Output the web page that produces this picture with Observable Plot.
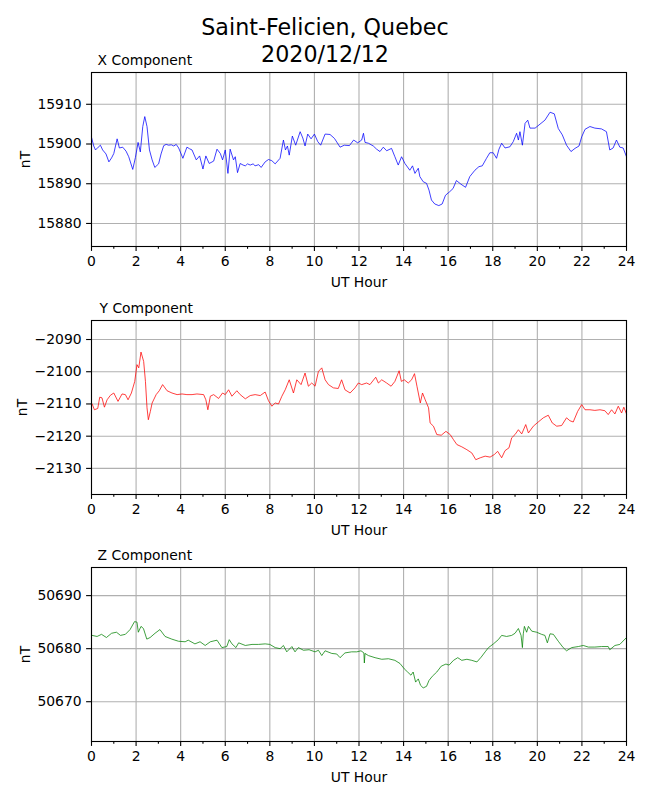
<!DOCTYPE html>
<html><head><meta charset="utf-8">
<script src="https://cdn.jsdelivr.net/npm/d3@7"></script>
<script src="https://cdn.jsdelivr.net/npm/@observablehq/plot@0.6"></script>
<style>
body{margin:0;background:#fff;font-family:"DejaVu Sans",sans-serif;}
#wrap{position:relative;width:650px;height:800px;overflow:hidden;background:#fff;}
.title{position:absolute;left:0;width:650px;top:14px;text-align:center;font-size:22.2px;line-height:26.6px;color:#000;font-family:"DejaVu Sans",sans-serif;z-index:2;}
.panel{position:absolute;left:0;z-index:1;}
</style></head><body>
<div id="wrap"><div class="title">Saint-Felicien, Quebec<br>2020/12/12</div></div>
<script>
const hourTicks = [0,2,4,6,8,10,12,14,16,18,20,22,24];
const minorTicks = [1,3,5,7,9,11,13,15,17,19,21,23];

const xHours = [0,0.1,0.18,0.3,0.4,0.5,0.65,0.78,0.9,1.0,1.15,1.25,1.4,1.55,1.67,1.85,1.97,2.09,2.19,2.3,2.39,2.49,2.6,2.72,2.84,3.01,3.12,3.24,3.35,3.46,3.58,3.69,3.8,3.91,4.1,4.28,4.4,4.51,4.7,4.85,5.0,5.13,5.28,5.48,5.63,5.78,5.88,6.0,6.12,6.22,6.37,6.45,6.55,6.67,6.8,6.9,7.0,7.12,7.25,7.34,7.5,7.61,7.79,7.94,8.09,8.24,8.46,8.61,8.7,8.79,8.87,9.01,9.16,9.36,9.48,9.58,9.7,9.85,10.0,10.15,10.28,10.48,10.7,10.9,11.15,11.34,11.57,11.76,11.94,12.12,12.2,12.27,12.42,12.64,12.79,12.94,13.09,13.24,13.46,13.61,13.76,13.91,14.06,14.28,14.4,14.51,14.66,14.73,14.88,15.03,15.14,15.25,15.4,15.58,15.73,15.88,16.07,16.22,16.37,16.57,16.78,16.97,17.2,17.38,17.53,17.72,17.87,18.02,18.17,18.28,18.4,18.55,18.77,18.92,19.07,19.15,19.22,19.33,19.45,19.57,19.67,19.9,20.12,20.34,20.57,20.76,20.94,21.12,21.31,21.51,21.69,21.87,21.99,22.14,22.36,22.58,22.88,23.1,23.25,23.4,23.55,23.7,23.85,24];
const xNT = [15901.7,15899.5,15898.5,15899.2,15899.7,15898.5,15897.5,15895.5,15896.5,15897.6,15901.3,15899,15899.2,15898.2,15896.8,15893.6,15896.6,15900.4,15898,15904.4,15906.9,15904.4,15898.5,15896,15894.1,15895,15897.5,15899.6,15899.9,15899.7,15899.8,15899.5,15899.9,15899,15896.4,15899.2,15898.8,15898.5,15896,15897,15893.7,15897,15895.1,15895.7,15898.7,15897.6,15896,15898.5,15892.6,15898.7,15896,15896.8,15892.8,15895.1,15894.7,15894.5,15895,15894.7,15895,15894.5,15894.8,15894.1,15895.5,15896.1,15895.8,15895,15896.4,15901,15898.5,15899.5,15897.2,15902,15899.7,15903.1,15901.5,15899.5,15902.5,15901.3,15902.5,15900.6,15899.7,15902.5,15902.4,15901.4,15899.2,15899.7,15899.6,15901,15900.3,15901,15902.7,15900.4,15900.2,15899.5,15898.7,15898.1,15899.2,15898.3,15898.9,15896.8,15894.7,15896.8,15895.1,15893.4,15894.5,15892.6,15893.9,15891.8,15890.5,15890.1,15888.4,15885.9,15884.9,15884.5,15884.9,15887.1,15888,15888.8,15890.8,15889.9,15889.1,15891.8,15893.4,15894.3,15894.5,15896.4,15897.8,15897.8,15896.4,15898.7,15900.2,15899,15899.3,15900.6,15902.7,15901,15903.1,15899.7,15905.2,15906,15904,15904,15905,15906,15908,15907.6,15903.9,15902.3,15899.7,15898.1,15898.9,15899.5,15901.8,15903.7,15904.4,15904,15903.8,15903.1,15898.5,15899,15901,15899.2,15899,15896.8];

const yHours = [0.03,0.13,0.28,0.37,0.47,0.58,0.7,0.85,1.0,1.19,1.37,1.52,1.64,1.79,1.94,2.04,2.12,2.22,2.34,2.42,2.49,2.55,2.64,2.72,2.9,3.04,3.19,3.39,3.61,3.84,4.06,4.28,4.51,4.73,5.03,5.13,5.22,5.33,5.48,5.7,5.88,6.0,6.15,6.3,6.52,6.67,6.9,7.12,7.34,7.57,7.79,7.94,8.09,8.24,8.39,8.54,8.69,8.87,9.06,9.21,9.4,9.58,9.73,9.88,10.03,10.18,10.33,10.48,10.63,10.85,11.07,11.22,11.37,11.6,11.82,11.97,12.12,12.34,12.49,12.75,12.87,13.02,13.24,13.44,13.61,13.8,13.9,14.03,14.21,14.36,14.49,14.6,14.75,14.85,14.97,15.12,15.19,15.34,15.49,15.69,15.9,16.09,16.24,16.39,16.61,16.84,17.06,17.24,17.44,17.66,17.88,18.07,18.22,18.4,18.55,18.73,18.85,19.0,19.15,19.3,19.48,19.6,19.82,20.04,20.27,20.49,20.67,20.87,21.09,21.31,21.46,21.61,21.81,21.99,22.14,22.36,22.58,22.81,23.03,23.18,23.33,23.48,23.63,23.78,23.88,24];
const yNT = [-2110,-2111.8,-2111.4,-2107.9,-2108.1,-2111,-2108.7,-2107.3,-2106.6,-2109.2,-2106.9,-2107.1,-2108.7,-2106.6,-2103,-2097.8,-2098.8,-2093.9,-2096.8,-2103,-2111.2,-2114.9,-2112.3,-2109.7,-2107.1,-2105.9,-2104,-2105.9,-2106.6,-2107.1,-2106.9,-2107.1,-2107.1,-2106.9,-2107.1,-2108.7,-2111.8,-2107.6,-2107.1,-2108.3,-2106.6,-2107.1,-2105.6,-2107.6,-2105.9,-2107.1,-2108.4,-2107.4,-2107.1,-2107.4,-2106.3,-2109,-2110.7,-2109.7,-2110,-2107.6,-2105.6,-2102.5,-2106.6,-2102.5,-2104,-2100.4,-2104.5,-2103.5,-2104.5,-2099.9,-2098.8,-2102.5,-2104,-2105,-2105.2,-2102.5,-2105.6,-2106.6,-2105,-2103.5,-2104,-2103.5,-2104,-2101.7,-2103.5,-2102.5,-2103.5,-2104.5,-2103,-2099.7,-2103,-2102.5,-2103.5,-2102.5,-2100.6,-2104.5,-2109.7,-2106.6,-2108.7,-2111.2,-2115.9,-2116.9,-2119.5,-2119.7,-2118.5,-2119.5,-2121.1,-2122.6,-2123.3,-2124.2,-2125.2,-2127.3,-2126.7,-2126.2,-2126.5,-2125.7,-2124.7,-2126.7,-2124.5,-2123.6,-2120.5,-2119.5,-2118,-2119.3,-2116.4,-2119,-2116.9,-2115.6,-2114.3,-2113.5,-2115.9,-2116.9,-2116.7,-2114.3,-2115.2,-2115.6,-2112.3,-2110.2,-2111.8,-2111.8,-2112,-2111.8,-2112.1,-2113.3,-2111.8,-2113.1,-2110.7,-2112.8,-2111,-2113.1];

const zHours = [0.03,0.25,0.45,0.67,0.9,1.12,1.3,1.52,1.73,1.93,2.04,2.1,2.22,2.33,2.48,2.63,2.85,3.07,3.3,3.6,3.9,4.2,4.34,4.64,4.87,5.1,5.33,5.63,5.85,6.07,6.18,6.3,6.48,6.6,6.9,7.2,7.49,7.79,8.0,8.24,8.46,8.61,8.76,8.99,9.13,9.28,9.51,9.76,10.03,10.18,10.33,10.48,10.78,11.0,11.15,11.37,11.67,11.9,12.09,12.22,12.24,12.27,12.42,12.72,13.02,13.32,13.61,13.84,14.03,14.18,14.33,14.43,14.54,14.66,14.76,14.88,15.03,15.14,15.29,15.49,15.69,15.9,16.04,16.24,16.43,16.61,16.84,17.06,17.29,17.48,17.66,17.81,18.03,18.25,18.4,18.62,18.85,19.0,19.15,19.27,19.33,19.37,19.42,19.52,19.6,19.75,19.97,20.19,20.34,20.45,20.57,20.72,20.94,21.16,21.31,21.54,21.84,22.06,22.29,22.58,22.88,23.18,23.25,23.48,23.7,24];
const zNT = [50682.5,50682.3,50682.7,50682.1,50682.9,50683.1,50682.5,50682.7,50683.6,50685.1,50685,50683.1,50684.2,50683.8,50681.8,50682.1,50682.9,50683.6,50682.3,50681.8,50681.4,50681.3,50681.6,50680.9,50681.3,50680.6,50681.3,50681.6,50680.2,50680.4,50681.7,50680.9,50680.2,50681.1,50680.6,50680.8,50680.8,50680.9,50680.8,50680.2,50680,50680.6,50679.4,50680.4,50679.4,50680.2,50679.7,50679.8,50679.4,50679.7,50678.7,50679.6,50679.1,50679,50678.3,50679.2,50679.4,50679.4,50679.6,50679.2,50677.3,50679.1,50678.7,50678.3,50678,50678.1,50677.8,50677.2,50676.2,50675.6,50675,50675.6,50673.7,50674.3,50673.1,50672.6,50672.9,50674,50674.8,50675.6,50676.7,50677.1,50676.9,50677.8,50678.3,50677.8,50678,50677.8,50677.5,50678.4,50679.4,50680.2,50680.9,50681.7,50682.5,50682.3,50682.5,50682.9,50683.8,50682.5,50680.2,50682.8,50684.2,50683.1,50684.2,50683.3,50683.1,50682.7,50682.5,50681.1,50682.8,50682.7,50681.4,50680.2,50679.6,50680.2,50680.4,50680.6,50680.3,50680.3,50680.4,50680.4,50679.8,50680.6,50680.8,50682.1];

const xTicks = [15880,15890,15900,15910];
const yTicks = [-2130,-2120,-2110,-2100,-2090];
const zTicks = [50670,50680,50690];

const panels = [
  {name:"X Component", hours:xHours, values:xNT, color:"blue", domain:[15874.2,15918], ticks:xTicks, top:72, nTdx:-66, nameDx:6},
  {name:"Y Component", hours:yHours, values:yNT, color:"red", domain:[-2138.1,-2084.1], ticks:yTicks, top:320, nTdx:-69, nameDx:8},
  {name:"Z Component", hours:zHours, values:zNT, color:"green", domain:[50662.5,50695.3], ticks:zTicks, top:567, nTdx:-66, nameDx:6}
];

const fmt = d3.format("d");
const wrap = document.getElementById("wrap");
const MT = 30, MB = 56, H = 174;
for (const p of panels) {
  const data = p.hours.map((t,i)=>({t, v:p.values[i]}));
  const svg = Plot.plot({
    width:650, height:MT+H+MB,
    marginLeft:91, marginRight:24, marginTop:MT, marginBottom:MB,
    style:{fontFamily:"'DejaVu Sans', sans-serif", fontSize:"13.9px", color:"#000", background:"transparent", overflow:"visible"},
    x:{domain:[0,24]},
    y:{domain:p.domain},
    marks:[
      Plot.gridX(hourTicks, {stroke:"#b0b0b0", strokeOpacity:1, strokeWidth:1.1}),
      Plot.gridY(p.ticks, {stroke:"#b0b0b0", strokeOpacity:1, strokeWidth:1.1}),
      Plot.line(data, {x:"t", y:"v", stroke:p.color, strokeWidth:0.75}),
      Plot.frame({stroke:"black", strokeWidth:1.1}),
      Plot.axisX(hourTicks, {tickSize:4.9, tickPadding:4.5, tickFormat:d=>String(d), label:null, strokeWidth:1.1}),
      Plot.axisX(minorTicks, {tickSize:2.8, tickFormat:()=>"", label:null, strokeWidth:1.1}),
      Plot.axisY(p.ticks, {tickSize:4.9, tickPadding:5, tickFormat:fmt, label:null, strokeWidth:1.1}),
      Plot.text(["UT Hour"], {frameAnchor:"bottom", dy:36, text:d=>d, lineAnchor:"middle", fill:"black"}),
      Plot.text(["nT"], {frameAnchor:"left", dx:p.nTdx, rotate:-90, text:d=>d, lineAnchor:"middle", textAnchor:"middle", fill:"black"}),
      Plot.text([p.name], {frameAnchor:"top-left", dx:p.nameDx, dy:-12, text:d=>d, lineAnchor:"middle", textAnchor:"start", fill:"black"})
    ]
  });
  svg.classList.add("panel");
  svg.style.position = "absolute";
  svg.style.top = (p.top - MT) + "px";
  svg.style.left = "0px";
  wrap.appendChild(svg);
}
</script>
</body></html>
